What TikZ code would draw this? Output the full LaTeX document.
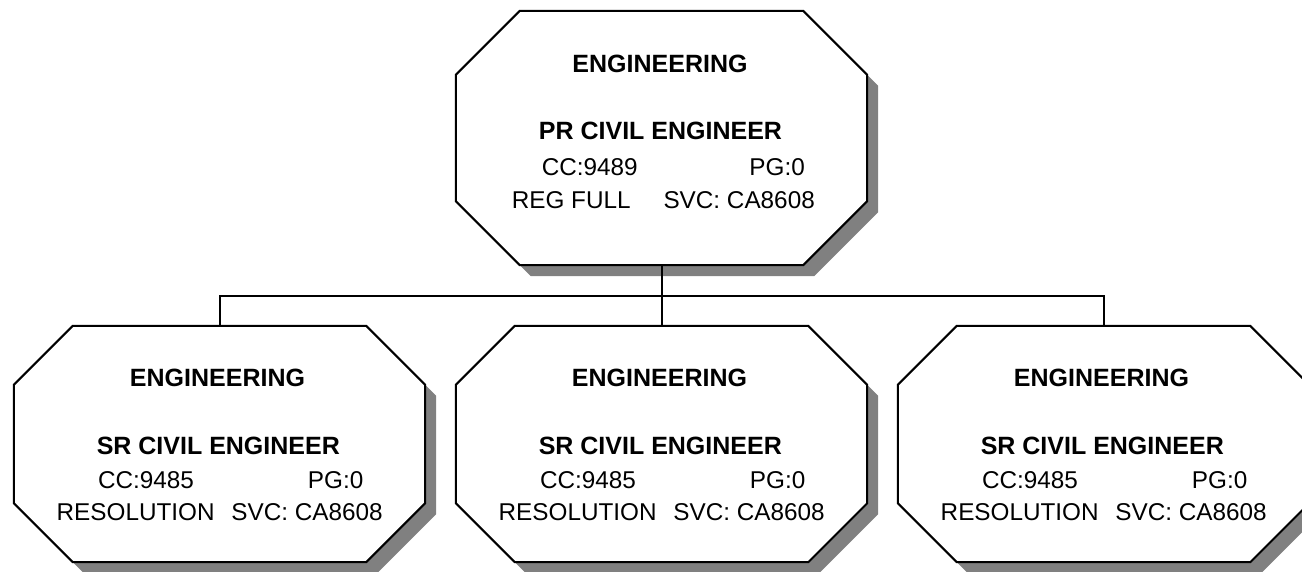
\documentclass[tikz,border=0pt]{standalone}
\usepackage{fontspec}
\setmainfont{Liberation Sans}
\usetikzlibrary{backgrounds,calc}
\definecolor{shadowgray}{HTML}{808080}
\newcommand{\octpath}[4]{($(#1.north west)+(#2+#3,#4)$) -- ($(#1.north east)+(-#2+#3,#4)$) -- ($(#1.north east)+(#3,#2+#4)$) -- ($(#1.south east)+(#3,-#2+#4)$) -- ($(#1.south east)+(-#2+#3,#4)$) -- ($(#1.south west)+(#2+#3,#4)$) -- ($(#1.south west)+(#3,-#2+#4)$) -- ($(#1.north west)+(#3,#2+#4)$) -- cycle}
\tikzset{
  orgframe/.style={draw=black, line width=2pt, fill=white, line join=miter},
  orgshadow/.style={fill=shadowgray, draw=none},
  conn/.style={draw=black, line width=2pt, line join=miter},
  holder/.style={draw=none, inner sep=0pt, minimum width=411pt},
  ttl/.style={font=\bfseries\fontsize{25}{30}\selectfont, anchor=base, inner sep=0pt},
  txt/.style={font=\fontsize{24.3}{30}\selectfont, anchor=base, inner sep=0pt},
}
\begin{document}
\begin{tikzpicture}[x=1pt, y=-1pt]
\useasboundingbox (0,0) rectangle (1302,571);
% top box
\node[holder, minimum height=254pt] (top) at (661.5,138) {};
\node[ttl] (top-t1) at (660,72) {ENGINEERING};
\node[ttl] (top-t2) at (660.5,139) {PR CIVIL ENGINEER};
\node[txt] (top-t3) at (663.3,175) {\makebox[303pt]{\hspace{30pt}CC:9489\hfill PG:0\hspace{10pt}}};
\node[txt] (top-t4) at (663.3,208) {\makebox[303pt]{REG FULL\hfill SVC: CA8608}};
\begin{pgfonlayer}{background}
  \fill[orgshadow] \octpath{top}{64}{11}{11};
  \draw[orgframe] \octpath{top}{64}{0}{0};
\end{pgfonlayer}
% bottom boxes
\foreach \n/\cx in {b1/219.5, b2/661.5, b3/1103.5}{
  \node[holder, minimum height=236pt] (\n) at (\cx,444) {};
  \node[ttl] (\n-t1) at (\cx-2,386) {ENGINEERING};
  \node[ttl] (\n-t2) at (\cx-1.2,454) {SR CIVIL ENGINEER};
  \node[txt] (\n-t3) at (\cx+0.2,488) {\makebox[326pt]{\hspace{41.3pt}CC:9485\hfill PG:0\hspace{19.4pt}}};
  \node[txt] (\n-t4) at (\cx+0.2,520) {\makebox[326pt]{RESOLUTION\hfill SVC: CA8608}};
  \begin{pgfonlayer}{background}
    \fill[orgshadow] \octpath{\n}{59}{11}{11};
    \draw[orgframe] \octpath{\n}{59}{0}{0};
  \end{pgfonlayer}
}
% connectors
\coordinate (bus) at (661.5,296);
\draw[conn] (top.south) -- (bus);
\draw[conn] (b1.north) |- (bus) -| (b3.north);
\draw[conn] (bus) -- (b2.north);
\end{tikzpicture}
\end{document}
